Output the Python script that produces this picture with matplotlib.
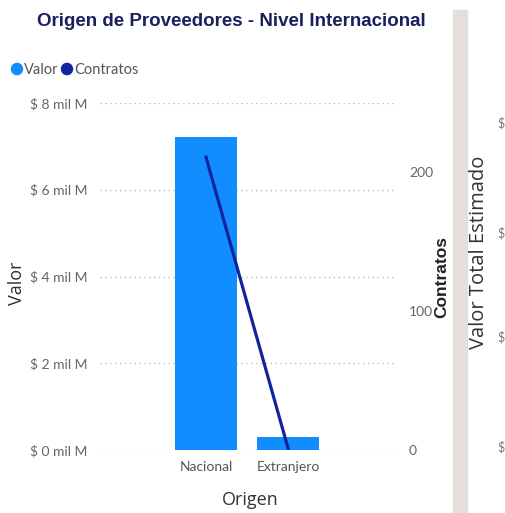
import matplotlib
matplotlib.use("Agg")
import matplotlib.pyplot as plt
from matplotlib.patches import Rectangle, Circle

categories = ["Nacional", "Extranjero"]
valor_mil_m = [7.22, 0.30]
contratos = [211, 1]
left_ticks = [0, 2, 4, 6, 8]
left_labels = ["$ 0 mil M", "$ 2 mil M", "$ 4 mil M", "$ 6 mil M", "$ 8 mil M"]
right_ticks = [0, 100, 200]

W, H = 505, 513
fig = plt.figure(figsize=(W / 100, H / 100), dpi=100)
fig.patch.set_facecolor("white")

cond = ["Lato", "DejaVu Sans"]
bold_fam = ["Liberation Sans", "DejaVu Sans"]

ax = fig.add_axes([100 / W, 1 - 450 / H, 295 / W, 347 / H])
x = list(range(len(categories)))
ax.bar(x, valor_mil_m, width=0.76, color="#118DFF", zorder=2)
ax.set_xlim(-1.29, 2.30)
ax.set_ylim(0, 8)
ax.set_yticks(left_ticks)
ax.set_yticklabels(left_labels, family=cond, fontsize=10, color="#666666")
ax.set_xticks(x)
ax.set_xticklabels(categories, family=cond, fontsize=10, color="#555555")
ax.tick_params(length=0, pad=9)
ax.tick_params(axis="x", pad=8)
ax.grid(axis="y", linestyle=(0, (1, 2.5)), color="#BBBBBB", linewidth=1)
ax.set_axisbelow(True)
for s in ax.spines.values():
    s.set_visible(False)

ax2 = ax.twinx()
ax2.plot(x, contratos, color="#12239E", linewidth=2.3, zorder=3)
ax2.set_ylim(0, 250)
ax2.set_yticks(right_ticks)
ax2.set_yticklabels([str(t) for t in right_ticks], family=cond, fontsize=10, color="#666666")
ax2.tick_params(length=0, pad=10)
for s in ax2.spines.values():
    s.set_visible(False)

fig.text(17 / W, 1 - 283 / H, "Valor", rotation=90, ha="center", va="center",
         fontsize=13, color="#333333", family=["Open Sans", "DejaVu Sans"])
fig.text(250 / W, 1 - 500 / H, "Origen", ha="center", va="center",
         fontsize=13, color="#333333", family=["Open Sans", "DejaVu Sans"])
fig.text(442 / W, 1 - 277 / H, "Contratos", rotation=90, ha="center", va="center",
         fontsize=12.5, fontweight="bold", color="#222222", family=bold_fam)

fig.text(231 / W, 1 - 22 / H, "Origen de Proveedores - Nivel Internacional",
         ha="center", va="center", fontsize=13.5, fontweight="bold",
         color="#1B1F5C", family=bold_fam)

# legend
fig.patches.append(Circle((17 / W, 1 - 69 / H), 5.5 / W, transform=fig.transFigure,
                          color="#118DFF"))
fig.text(24 / W, 1 - 70 / H, "Valor", ha="left", va="center", fontsize=10.5,
         color="#555555", family=cond)
fig.patches.append(Circle((67 / W, 1 - 69 / H), 5.5 / W, transform=fig.transFigure,
                          color="#12239E"))
fig.text(74 / W, 1 - 70 / H, "Contratos", ha="left", va="center", fontsize=10.5,
         color="#555555", family=cond)

# right strip
fig.patches.append(Rectangle((453 / W, 0), 14 / W, 1 - 10 / H, transform=fig.transFigure,
                             color="#E6DEDA", zorder=0))
fig.text(479 / W, 1 - 252 / H, "Valor Total Estimado", rotation=90, ha="center",
         va="center", fontsize=14.5, color="#333333", family=["Open Sans", "DejaVu Sans"])
for yy in [123, 233, 337, 447]:
    fig.text(497 / W, 1 - yy / H, "$", ha="left", va="center", fontsize=9,
             color="#777777", family=cond)

fig.savefig("out.png", dpi=100, facecolor="white")
